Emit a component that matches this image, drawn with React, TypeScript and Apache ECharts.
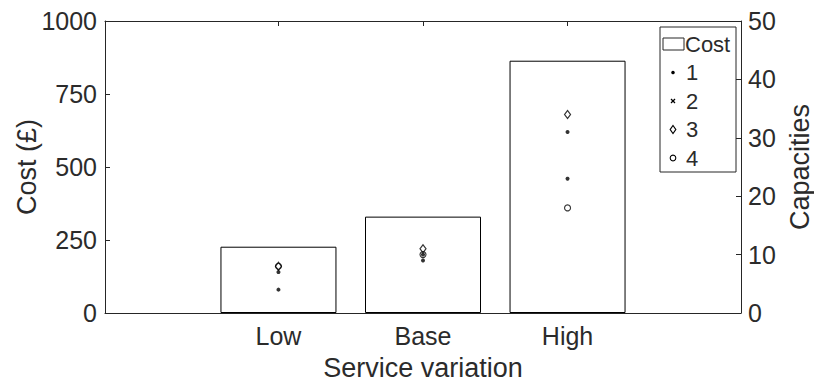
import React, { useEffect, useRef } from 'react';
import * as echarts from 'echarts';

const categories = ['Low', 'Base', 'High'];
const costValues = [227, 330, 864];
const capacity1 = [4, 9, 31];
const capacity2 = [7, 10, 23];
const capacity3 = [8, 11, 34];
const capacity4 = [8, 10, 18];
const legendLabels = ['Cost', '1', '2', '3', '4'];

const FONT = '"Liberation Sans", Arial, Helvetica, sans-serif';
const TXT = '#2b2b2b';
const LINE = '#262626';

const ASTERISK = 'path://M5,0L5,10M0,5L10,5M1.5,1.5L8.5,8.5M8.5,1.5L1.5,8.5';

export default function App() {
  const ref = useRef<HTMLDivElement>(null);

  useEffect(() => {
    document.body.style.margin = '0';
    const chart = echarts.init(ref.current!, null, { renderer: 'svg' });
    const xPos = categories.map((_, i) => i + 1);
    const pts = (arr: number[]) => arr.map((v, i) => [xPos[i], v]);

    const lx = 660;
    const ly = 27;
    const entryY = (i: number) => 44 + i * 28.5;
    const mx = 673;
    const tx = 686;

    const legendChildren: any[] = [
      {
        type: 'rect',
        shape: { x: lx, y: ly, width: 76, height: 145 },
        style: { fill: '#fff', stroke: LINE, lineWidth: 1 },
      },
      {
        type: 'rect',
        shape: { x: 663, y: entryY(0) - 6, width: 21, height: 12 },
        style: { fill: '#fff', stroke: LINE, lineWidth: 1 },
      },
      {
        type: 'circle',
        shape: { cx: mx, cy: entryY(1), r: 1.8 },
        style: { fill: '#000' },
      },
      {
        type: 'polyline',
        shape: { points: [[mx - 2, entryY(2) - 2], [mx + 2, entryY(2) + 2]] },
        style: { stroke: '#000', lineWidth: 1.2, fill: 'none' },
      },
      {
        type: 'polyline',
        shape: { points: [[mx + 2, entryY(2) - 2], [mx - 2, entryY(2) + 2]] },
        style: { stroke: '#000', lineWidth: 1.2, fill: 'none' },
      },
      {
        type: 'polygon',
        shape: {
          points: [
            [mx, entryY(3) - 4],
            [mx + 2.8, entryY(3)],
            [mx, entryY(3) + 4],
            [mx - 2.8, entryY(3)],
          ],
        },
        style: { fill: 'none', stroke: '#000', lineWidth: 1.2 },
      },
      {
        type: 'circle',
        shape: { cx: mx, cy: entryY(4), r: 2.8 },
        style: { fill: 'none', stroke: '#000', lineWidth: 1.1 },
      },
    ];
    legendLabels.forEach((label, i) => {
      legendChildren.push({
        type: 'text',
        x: i === 0 ? 685 : tx,
        y: entryY(i),
        style: {
          text: label,
          fill: TXT,
          font: `22px ${FONT}`,
          verticalAlign: 'middle',
          align: 'left',
        },
      });
    });

    const scatterBase = {
      type: 'scatter',
      xAxisIndex: 0,
      yAxisIndex: 1,
      z: 5,
    };

    const plain = (v: number) => String(v);

    chart.setOption({
      animation: false,
      textStyle: { fontFamily: FONT, color: TXT },
      grid: {
        left: 105,
        right: 73,
        top: 21,
        bottom: 69,
        containLabel: false,
        outerBoundsMode: 'none',
      },
      xAxis: [
        {
          type: 'value',
          min: -0.2,
          max: 4.2,
          position: 'bottom',
          name: 'Service variation',
          nameLocation: 'middle',
          nameGap: 41,
          nameTextStyle: { fontSize: 27, color: TXT, fontFamily: FONT },
          axisLine: { show: true, onZero: false, lineStyle: { color: LINE, width: 1 } },
          axisTick: {
            show: true,
            inside: true,
            length: 5,
            customValues: xPos,
            lineStyle: { color: LINE },
          },
          axisLabel: {
            customValues: xPos,
            formatter: (v: number) => categories[Math.round(v) - 1] ?? '',
            fontSize: 25,
            color: TXT,
            margin: 10,
            fontFamily: FONT,
          },
          splitLine: { show: false },
        },
        {
          type: 'value',
          min: -0.2,
          max: 4.2,
          position: 'top',
          axisLine: { show: true, onZero: false, lineStyle: { color: LINE, width: 1 } },
          axisTick: {
            show: true,
            inside: true,
            length: 5,
            customValues: xPos,
            lineStyle: { color: LINE },
          },
          axisLabel: { show: false },
          splitLine: { show: false },
        },
      ],
      yAxis: [
        {
          type: 'value',
          min: 0,
          max: 1000,
          interval: 250,
          position: 'left',
          name: 'Cost (£)',
          nameLocation: 'middle',
          nameGap: 65,
          nameMoveOverlap: false,
          nameTextStyle: { fontSize: 27, color: TXT, fontFamily: FONT },
          axisLine: { show: true, onZero: false, lineStyle: { color: LINE, width: 1 } },
          axisTick: { show: true, inside: true, length: 5, lineStyle: { color: LINE } },
          axisLabel: { fontSize: 25, color: TXT, margin: 8, fontFamily: FONT, formatter: plain },
          splitLine: { show: false },
        },
        {
          type: 'value',
          min: 0,
          max: 50,
          interval: 10,
          position: 'right',
          name: 'Capacities',
          nameLocation: 'middle',
          nameGap: 40,
          nameRotate: 90,
          nameTextStyle: { fontSize: 27, color: TXT, fontFamily: FONT },
          axisLine: { show: true, onZero: false, lineStyle: { color: LINE, width: 1 } },
          axisTick: { show: true, inside: true, length: 5, lineStyle: { color: LINE } },
          axisLabel: { fontSize: 25, color: TXT, margin: 7, fontFamily: FONT, formatter: plain },
          splitLine: { show: false },
        },
      ],
      series: [
        {
          name: 'Cost',
          type: 'bar',
          xAxisIndex: 0,
          yAxisIndex: 0,
          barWidth: 116,
          data: pts(costValues),
          itemStyle: { color: '#ffffff', borderColor: '#000000', borderWidth: 1 },
          z: 2,
        },
        {
          ...scatterBase,
          name: '1',
          data: pts(capacity1),
          symbol: 'circle',
          symbolSize: 4,
          itemStyle: { color: '#000' },
        },
        {
          ...scatterBase,
          name: '2',
          data: pts(capacity2),
          symbol: ASTERISK,
          symbolSize: 4,
          itemStyle: { color: 'none', borderColor: '#000', borderWidth: 1.2 },
        },
        {
          ...scatterBase,
          name: '3',
          data: pts(capacity3),
          symbol: 'diamond',
          symbolSize: [6, 8],
          itemStyle: { color: 'rgba(0,0,0,0)', borderColor: '#000', borderWidth: 1.2 },
        },
        {
          ...scatterBase,
          name: '4',
          data: pts(capacity4),
          symbol: 'circle',
          symbolSize: 6,
          itemStyle: { color: 'rgba(0,0,0,0)', borderColor: '#000', borderWidth: 1.1 },
        },
      ],
      graphic: [{ type: 'group', z: 100, children: legendChildren }],
    });

    return () => chart.dispose();
  }, []);

  return <div ref={ref} style={{ width: 814, height: 382 }} />;
}
